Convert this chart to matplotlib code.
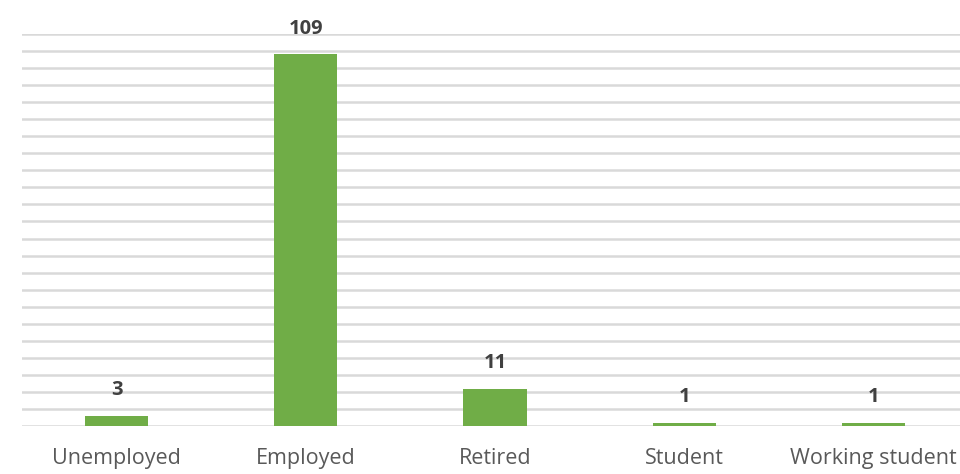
import matplotlib.pyplot as plt
import numpy as np

# employment status counts
categories = ['Unemployed', 'Employed', 'Retired', 'Student', 'Working student']
counts = [3, 109, 11, 1, 1]

bar_color = '#70AD47'
grid_color = '#d9d9d9'

fig = plt.figure(figsize=(9.6, 4.74), dpi=100)
ax = fig.add_axes([22 / 960, 48 / 474, 946 / 960, 392 / 474])

x = np.arange(len(categories))
ax.bar(x, counts, width=0.335, color=bar_color, zorder=3)

ax.set_xlim(-0.5, len(categories) - 0.5)
ax.set_ylim(0, 115)
ax.set_yticks(np.arange(0, 116, 5))
ax.yaxis.grid(True, color=grid_color, linewidth=1.8, zorder=0)
ax.tick_params(axis='y', left=False, labelleft=False)
ax.tick_params(axis='x', bottom=False, pad=12)
for s in ax.spines.values():
    s.set_visible(False)

ax.set_xticks(x)
ax.set_xticklabels(categories, fontsize=15.5, color='#595959', family='Open Sans')

# value labels above bars
for xi, v in zip(x, counts):
    ax.text(xi, v + 4.5, str(v), ha='center', va='bottom', fontsize=14.5,
            fontweight='bold', color='#404040', family='Open Sans')

fig.savefig('out.png', dpi=100)
